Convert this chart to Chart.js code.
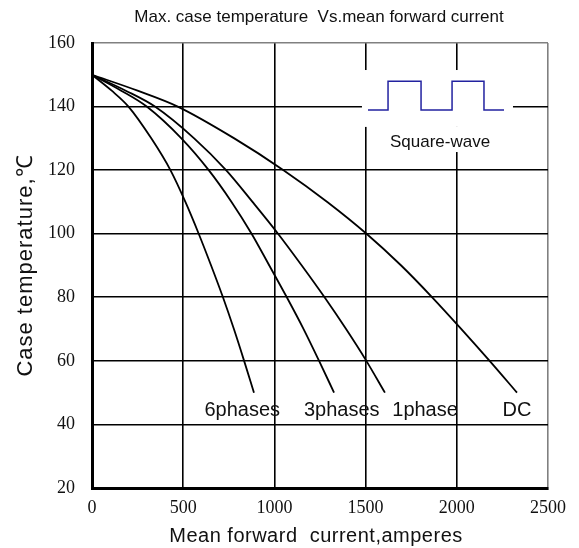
<!DOCTYPE html>
<html>
<head>
<meta charset="utf-8">
<script src="https://cdn.jsdelivr.net/npm/chart.js@4"></script>
<style>
  html, body { margin: 0; padding: 0; background: #ffffff; }
  canvas { display: block; }
</style>
</head>
<body>
<canvas id="c" width="579" height="548"></canvas>
<script>
// ---- data ----
const currentTicks = [0, 500, 1000, 1500, 2000, 2500];
const tempTicks = [20, 40, 60, 80, 100, 120, 140, 160];

const curveTemp = [150, 145, 140, 130, 120, 110, 100, 90, 80, 70, 60, 50];
const dcCurrent         = [0, 250, 470, 780, 1050, 1290, 1505, 1695, 1865, 2025, 2180, 2330];
const onePhaseCurrent   = [0, 185, 345, 560, 735, 880, 1020, 1150, 1275, 1393, 1504, 1606];
const threePhaseCurrent = [0, 160, 300, 490, 640, 765, 875, 972, 1068, 1160, 1245, 1327];
const sixPhaseCurrent   = [0, 108, 200, 325, 430, 512, 585, 653, 718, 778, 834, 888];

const seriesNames = ['DC', '1phase', '3phases', '6phases'];
// curve label anchors (current, temperature)
const labelCurrent = [2330, 1826, 1369, 824];
const labelTemp    = [44.5, 44.5, 44.5, 44.5];

// square-wave inset (in data units)
const waveCurrent = [1513, 1623, 1623, 1804, 1804, 1974, 1974, 2149, 2149, 2259];
const waveTemp    = [138.9, 138.9, 148.0, 148.0, 138.9, 138.9, 148.0, 148.0, 138.9, 138.9];
const waveLabel = 'Square-wave';

const chartTitle = 'Max. case temperature  Vs.mean forward current';
const xTitle = 'Mean forward  current,amperes';
const yTitle = 'Case temperature,\u2103';

function pts(xs, ys) { return xs.map((x, i) => ({ x: x, y: ys[i] })); }

const lineStyle = {
  showLine: true, pointRadius: 0, borderColor: '#000', borderWidth: 1.8,
  cubicInterpolationMode: 'monotone', fill: false
};

const decor = {
  id: 'decor',
  afterDraw(chart) {
    const ctx = chart.ctx, xs = chart.scales.x, ys = chart.scales.y;
    const X = v => xs.getPixelForValue(v), Y = v => ys.getPixelForValue(v);
    ctx.save();
    // white boxes behind the inset
    ctx.fillStyle = '#fff';
    ctx.fillRect(X(1480), Y(151.5), X(2308) - X(1480), Y(133.6) - Y(151.5));
    ctx.fillRect(X(1579), Y(133.6), X(2237) - X(1579), Y(125.7) - Y(133.6));
    // square wave
    ctx.strokeStyle = '#2222a0';
    ctx.lineWidth = 1.5;
    ctx.beginPath();
    waveCurrent.forEach((c, i) => {
      const px = X(c), py = Y(waveTemp[i]);
      if (i === 0) ctx.moveTo(px, py); else ctx.lineTo(px, py);
    });
    ctx.stroke();
    ctx.fillStyle = '#111';
    ctx.textAlign = 'center';
    ctx.textBaseline = 'middle';
    ctx.font = '17px "Liberation Sans", Arial, sans-serif';
    ctx.fillText(waveLabel, X(1908), Y(128.6));
    // curve labels
    ctx.font = '20px "Liberation Sans", Arial, sans-serif';
    seriesNames.forEach((n, i) => ctx.fillText(n, X(labelCurrent[i]), Y(labelTemp[i])));
    // titles
    ctx.font = '17px "Liberation Sans", Arial, sans-serif';
    ctx.fillText(chartTitle, 319, 17);
    ctx.font = '20px "Liberation Sans", Arial, sans-serif';
    ctx.letterSpacing = '0.5px';
    ctx.fillText(xTitle, 316, 536);
    ctx.font = '22px "Liberation Sans", Arial, sans-serif';
    ctx.letterSpacing = '1px';
    ctx.translate(26, (chart.chartArea.top + chart.chartArea.bottom) / 2);
    ctx.rotate(-Math.PI / 2);
    ctx.fillText(yTitle, 0, 0);
    ctx.restore();
  }
};

const tickFont = { family: '"Liberation Serif", "Times New Roman", serif', size: 18 };

new Chart(document.getElementById('c'), {
  type: 'scatter',
  data: {
    datasets: [
      Object.assign({ label: 'DC', data: pts(dcCurrent, curveTemp) }, lineStyle),
      Object.assign({ label: '1phase', data: pts(onePhaseCurrent, curveTemp) }, lineStyle),
      Object.assign({ label: '3phases', data: pts(threePhaseCurrent, curveTemp) }, lineStyle),
      Object.assign({ label: '6phases', data: pts(sixPhaseCurrent, curveTemp) }, lineStyle)
    ]
  },
  options: {
    responsive: false,
    devicePixelRatio: 1,
    animation: false,
    layout: { padding: { top: 43, right: 31, left: 0, bottom: 0 } },
    plugins: { legend: { display: false }, tooltip: { enabled: false }, title: { display: false } },
    scales: {
      x: {
        type: 'linear', min: 0, max: 2500,
        afterBuildTicks: s => { s.ticks = currentTicks.map(v => ({ value: v })); },
        afterFit: s => { s.height = 60; },
        grid: {
          drawTicks: false, lineWidth: 1.6,
          color: c => (c.tick && c.tick.value === 2500) ? '#808080' : '#000'
        },
        border: { display: true, color: '#000', width: 3 },
        ticks: { padding: 9, color: '#111', font: tickFont, callback: v => String(v) }
      },
      y: {
        type: 'linear', min: 20, max: 160,
        afterBuildTicks: s => { s.ticks = tempTicks.map(v => ({ value: v })); },
        afterFit: s => { s.width = 92; },
        grid: {
          drawTicks: false, lineWidth: 1.6,
          color: c => (c.tick && c.tick.value === 160) ? '#808080' : '#000'
        },
        border: { display: true, color: '#000', width: 3 },
        ticks: { padding: 17, color: '#111', font: tickFont, callback: v => String(v) }
      }
    }
  },
  plugins: [decor]
});
</script>
</body>
</html>
